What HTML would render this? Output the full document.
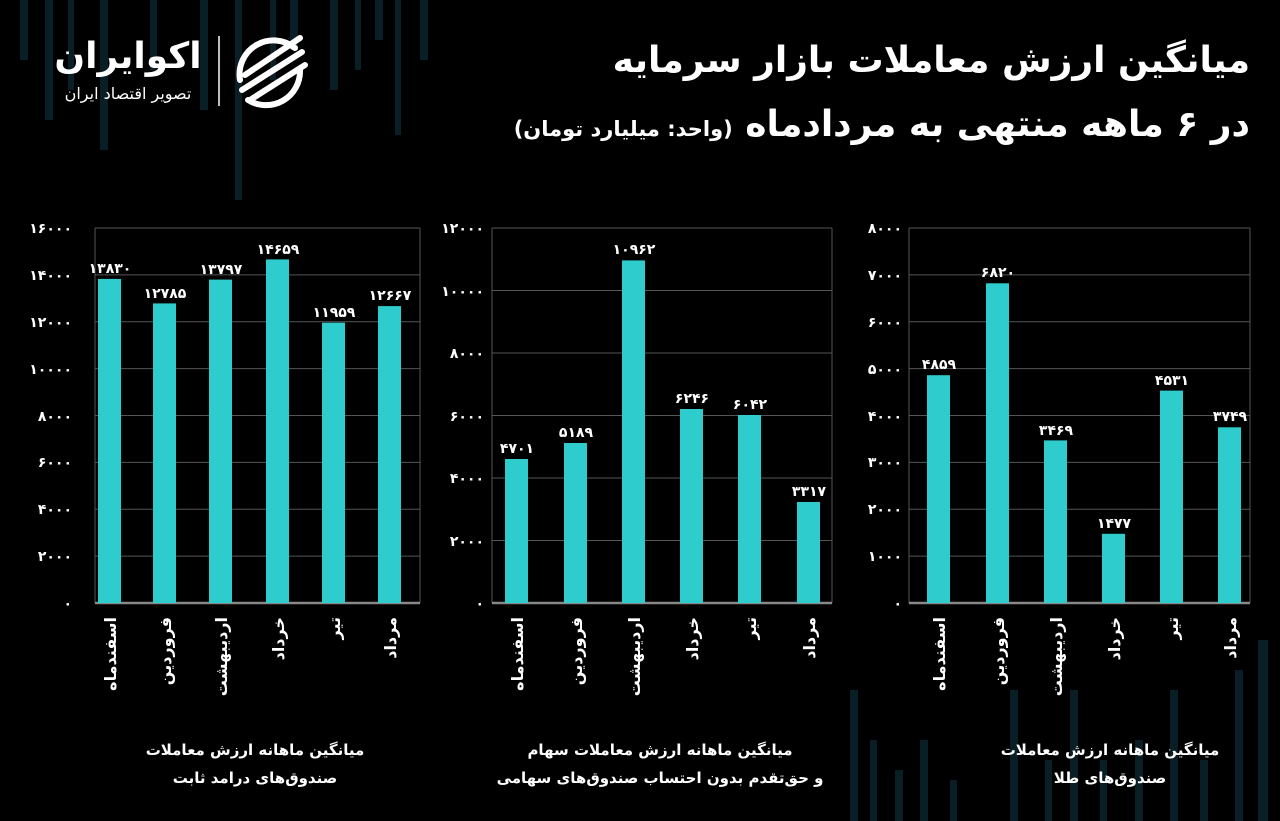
<!DOCTYPE html>
<html><head><meta charset="utf-8"><style>
html,body{margin:0;padding:0;background:#000;}
body{width:1280px;height:821px;overflow:hidden;position:relative;font-family:"DejaVu Sans","Liberation Sans",sans-serif;color:#fff;}
.t{position:absolute;direction:rtl;white-space:nowrap;font-weight:bold;}
</style></head><body>
<svg width="1280" height="821" style="position:absolute;left:0;top:0" font-family="DejaVu Sans, Liberation Sans, sans-serif">
<g fill="#0a1e26">
<rect x="20" y="0" width="8" height="60"/><rect x="45" y="0" width="8" height="120"/><rect x="68" y="0" width="6" height="90"/>
<rect x="100" y="0" width="8" height="150"/><rect x="150" y="0" width="7" height="70"/><rect x="200" y="0" width="8" height="110"/>
<rect x="235" y="0" width="7" height="200"/><rect x="270" y="0" width="6" height="80"/><rect x="290" y="0" width="8" height="50"/>
<rect x="330" y="0" width="8" height="90"/><rect x="355" y="0" width="6" height="70"/><rect x="375" y="0" width="8" height="40"/>
<rect x="395" y="0" width="6" height="135"/><rect x="420" y="0" width="8" height="60"/>
<rect x="850" y="690" width="8" height="131"/><rect x="870" y="740" width="7" height="81"/><rect x="895" y="770" width="8" height="51"/>
<rect x="920" y="740" width="8" height="81"/><rect x="950" y="780" width="7" height="41"/><rect x="1010" y="690" width="8" height="131"/>
<rect x="1045" y="760" width="7" height="61"/><rect x="1070" y="690" width="8" height="131"/><rect x="1100" y="760" width="7" height="61"/>
<rect x="1135" y="740" width="8" height="81"/><rect x="1170" y="690" width="8" height="131"/><rect x="1200" y="760" width="8" height="61"/>
<rect x="1235" y="670" width="8" height="151"/><rect x="1258" y="640" width="10" height="181"/>
</g>
<g stroke="#fff" fill="none" stroke-width="6" stroke-linecap="round">
<path d="M295 48 A34 34 0 0 0 240 80"/>
<path d="M248 100 A34 34 0 0 0 300 70"/>
<line x1="245" y1="75" x2="300" y2="38"/><line x1="242" y1="90" x2="302" y2="52"/><line x1="250" y1="100" x2="305" y2="65"/>
</g>
<line x1="219" y1="36" x2="219" y2="106" stroke="#fff" stroke-width="1.5"/>

<g stroke="#555" stroke-width="1">
<line x1="95" y1="228" x2="420" y2="228"/><line x1="95" y1="274.9" x2="420" y2="274.9"/><line x1="95" y1="321.8" x2="420" y2="321.8"/><line x1="95" y1="368.6" x2="420" y2="368.6"/><line x1="95" y1="415.5" x2="420" y2="415.5"/><line x1="95" y1="462.4" x2="420" y2="462.4"/><line x1="95" y1="509.3" x2="420" y2="509.3"/><line x1="95" y1="556.1" x2="420" y2="556.1"/>
<line x1="95" y1="228" x2="95" y2="603"/><line x1="420" y1="228" x2="420" y2="603"/>
<line x1="492" y1="228" x2="832" y2="228"/><line x1="492" y1="290.5" x2="832" y2="290.5"/><line x1="492" y1="353" x2="832" y2="353"/><line x1="492" y1="415.5" x2="832" y2="415.5"/><line x1="492" y1="478" x2="832" y2="478"/><line x1="492" y1="540.5" x2="832" y2="540.5"/>
<line x1="492" y1="228" x2="492" y2="603"/><line x1="832" y1="228" x2="832" y2="603"/>
<line x1="909" y1="228" x2="1250" y2="228"/><line x1="909" y1="274.9" x2="1250" y2="274.9"/><line x1="909" y1="321.8" x2="1250" y2="321.8"/><line x1="909" y1="368.6" x2="1250" y2="368.6"/><line x1="909" y1="415.5" x2="1250" y2="415.5"/><line x1="909" y1="462.4" x2="1250" y2="462.4"/><line x1="909" y1="509.3" x2="1250" y2="509.3"/><line x1="909" y1="556.1" x2="1250" y2="556.1"/>
<line x1="909" y1="228" x2="909" y2="603"/><line x1="1250" y1="228" x2="1250" y2="603"/>
</g>
<g stroke="#888" stroke-width="2.5">
<line x1="95" y1="603" x2="420" y2="603"/><line x1="492" y1="603" x2="832" y2="603"/><line x1="909" y1="603" x2="1250" y2="603"/>
</g>
<g fill="#2ecccc">
<rect x="98" y="278.9" width="23" height="324.1"/><rect x="153" y="303.4" width="23" height="299.6"/><rect x="209" y="279.6" width="23" height="323.4"/><rect x="266" y="259.4" width="23" height="343.6"/><rect x="322" y="322.7" width="23" height="280.3"/><rect x="378" y="306.1" width="23" height="296.9"/>
<rect x="505" y="459" width="23" height="144"/><rect x="564" y="443" width="23" height="160"/><rect x="622" y="260.4" width="23" height="342.6"/><rect x="680" y="409" width="23" height="194"/><rect x="738" y="415" width="23" height="188"/><rect x="797" y="502" width="23" height="101"/>
<rect x="927" y="375.2" width="23" height="227.8"/><rect x="986" y="283.3" width="23" height="319.7"/><rect x="1044" y="440.4" width="23" height="162.6"/><rect x="1102" y="533.8" width="23" height="69.2"/><rect x="1160" y="390.6" width="23" height="212.4"/><rect x="1218" y="427.3" width="23" height="175.7"/>
</g>
<g fill="#fff" font-size="14" font-weight="bold" text-anchor="end">
<text x="72" y="233">۱۶۰۰۰</text><text x="72" y="280">۱۴۰۰۰</text><text x="72" y="327">۱۲۰۰۰</text><text x="72" y="374">۱۰۰۰۰</text><text x="72" y="421">۸۰۰۰</text><text x="72" y="467">۶۰۰۰</text><text x="72" y="514">۴۰۰۰</text><text x="72" y="561">۲۰۰۰</text><text x="72" y="608">۰</text>
<text x="484" y="233">۱۲۰۰۰</text><text x="484" y="296">۱۰۰۰۰</text><text x="484" y="358">۸۰۰۰</text><text x="484" y="421">۶۰۰۰</text><text x="484" y="483">۴۰۰۰</text><text x="484" y="546">۲۰۰۰</text><text x="484" y="608">۰</text>
<text x="902" y="233">۸۰۰۰</text><text x="902" y="280">۷۰۰۰</text><text x="902" y="327">۶۰۰۰</text><text x="902" y="374">۵۰۰۰</text><text x="902" y="421">۴۰۰۰</text><text x="902" y="467">۳۰۰۰</text><text x="902" y="514">۲۰۰۰</text><text x="902" y="561">۱۰۰۰</text><text x="902" y="608">۰</text>
</g>
<g fill="#fff" font-size="14" font-weight="bold" text-anchor="middle">
<text x="110" y="273">۱۳۸۳۰</text><text x="165" y="298">۱۲۷۸۵</text><text x="221" y="274">۱۳۷۹۷</text><text x="278" y="254">۱۴۶۵۹</text><text x="334" y="317">۱۱۹۵۹</text><text x="390" y="300">۱۲۶۶۷</text>
<text x="517" y="453">۴۷۰۱</text><text x="576" y="437">۵۱۸۹</text><text x="634" y="254">۱۰۹۶۲</text><text x="692" y="403">۶۲۴۶</text><text x="750" y="409">۶۰۴۲</text><text x="809" y="496">۳۳۱۷</text>
<text x="939" y="369">۴۸۵۹</text><text x="998" y="277">۶۸۲۰</text><text x="1056" y="435">۳۴۶۹</text><text x="1114" y="528">۱۴۷۷</text><text x="1172" y="385">۴۵۳۱</text><text x="1230" y="421">۳۷۴۹</text>
</g>
<g fill="#fff" font-size="16" font-weight="bold" text-anchor="end">
<text transform="translate(116,617) rotate(-90)">اسفندماه</text><text transform="translate(171,617) rotate(-90)">فروردین</text><text transform="translate(227,617) rotate(-90)">اردیبهشت</text><text transform="translate(284,617) rotate(-90)">خرداد</text><text transform="translate(340,617) rotate(-90)">تیر</text><text transform="translate(396,617) rotate(-90)">مرداد</text>
<text transform="translate(523,617) rotate(-90)">اسفندماه</text><text transform="translate(582,617) rotate(-90)">فروردین</text><text transform="translate(640,617) rotate(-90)">اردیبهشت</text><text transform="translate(698,617) rotate(-90)">خرداد</text><text transform="translate(756,617) rotate(-90)">تیر</text><text transform="translate(815,617) rotate(-90)">مرداد</text>
<text transform="translate(945,617) rotate(-90)">اسفندماه</text><text transform="translate(1004,617) rotate(-90)">فروردین</text><text transform="translate(1062,617) rotate(-90)">اردیبهشت</text><text transform="translate(1120,617) rotate(-90)">خرداد</text><text transform="translate(1178,617) rotate(-90)">تیر</text><text transform="translate(1236,617) rotate(-90)">مرداد</text>
</g>
</svg>
<div class="t" style="left:48px;top:36px;font-size:36px;width:160px;text-align:center;">اکوایران</div>
<div class="t" style="left:48px;top:84px;font-size:16px;font-weight:normal;width:160px;text-align:center;">تصویر اقتصاد ایران</div>
<div class="t" style="right:30px;top:40px;font-size:36px;">میانگین ارزش معاملات بازار سرمایه</div>
<div class="t" style="right:30px;top:104px;font-size:36px;">در ۶ ماهه منتهی به مردادماه <span style="font-size:21px;">(واحد: میلیارد تومان)</span></div>
<div class="t" style="left:100px;width:310px;top:736px;font-size:15px;text-align:center;line-height:28px;">میانگین ماهانه ارزش معاملات<br>صندوق‌های درامد ثابت</div>
<div class="t" style="left:490px;width:340px;top:736px;font-size:15px;text-align:center;line-height:28px;">میانگین ماهانه ارزش معاملات سهام<br>و حق‌تقدم بدون احتساب صندوق‌های سهامی</div>
<div class="t" style="left:940px;width:340px;top:736px;font-size:15px;text-align:center;line-height:28px;">میانگین ماهانه ارزش معاملات<br>صندوق‌های طلا</div>
</body></html>
